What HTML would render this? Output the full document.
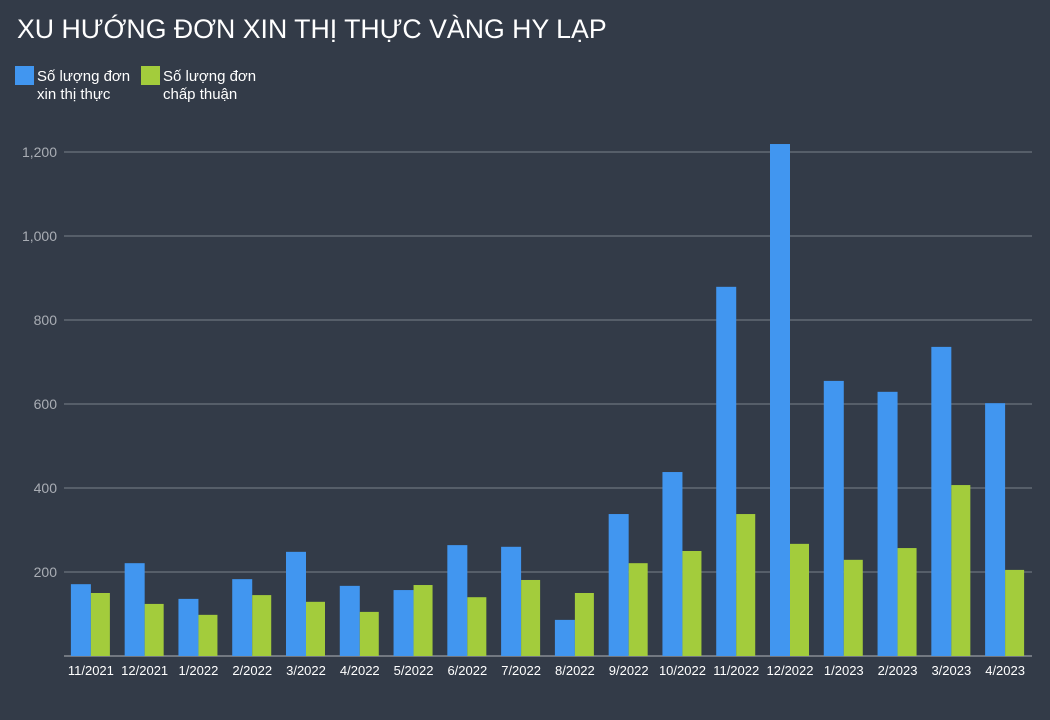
<!DOCTYPE html>
<html><head><meta charset="utf-8"><style>
body{margin:0;background:#333b48;font-family:"Liberation Sans",sans-serif;}
svg{display:block}
</style></head><body>
<svg id="c" width="1050" height="720">
<rect width="1050" height="720" fill="#333b48"/>
<text x="17" y="38" fill="#fff" font-size="26.7">XU HƯỚNG ĐƠN XIN THỊ THỰC VÀNG HY LẠP</text>
<g>
<rect x="15" y="66" width="19" height="19" fill="#4196f0"/>
<text x="37" y="81" fill="#fff" font-size="15">Số lượng đơn</text>
<text x="37" y="99" fill="#fff" font-size="15">xin thị thực</text>
</g>
<g>
<rect x="141" y="66" width="19" height="19" fill="#a3cc3c"/>
<text x="163" y="81" fill="#fff" font-size="15">Số lượng đơn</text>
<text x="163" y="99" fill="#fff" font-size="15">chấp thuận</text>
</g>
<g id="grid"></g><g id="bars"></g><g id="xl"></g>
</svg>
<script>
const categories=["11/2021","12/2021","1/2022","2/2022","3/2022","4/2022","5/2022","6/2022","7/2022","8/2022","9/2022","10/2022","11/2022","12/2022","1/2023","2/2023","3/2023","4/2023"];
const applications=[171,221,136,183,248,167,157,264,260,86,338,438,879,1219,655,629,736,602];
const approved=[150,124,98,145,129,105,169,140,181,150,221,250,338,267,229,257,407,205];
const yTicks=[200,400,600,800,1000,1200];
const yTickLabels=["200","400","600","800","1,000","1,200"];
const NS="http://www.w3.org/2000/svg";
const x0=64,x1=1032,y0=656,yMax=1200,yTop=152;
const y=v=>y0-(v/yMax)*(y0-yTop);
const bw=(x1-x0)/categories.length;
const xc=i=>x0+bw*(i+0.5);
function mk(t,a,p){const e=document.createElementNS(NS,t);for(const k in a)e.setAttribute(k,a[k]);p.appendChild(e);return e;}
const g=document.getElementById('grid');
yTicks.forEach((v,i)=>{
 const l=mk('line',{x1:x0,x2:x1,y1:y(v),y2:y(v),stroke:'#7a808a','stroke-width':1},g);
 
 
 const t=mk('text',{x:57,y:y(v)+5,fill:'#a9adb4','font-size':14,'text-anchor':'end'},g);
 t.textContent=yTickLabels[i];
 
 
});
const ax=mk('line',{x1:x0,x2:x1,y1:y0,y2:y0,stroke:'#b0b4ba','stroke-width':1},g);


const b=document.getElementById('bars'),xl=document.getElementById('xl');
categories.forEach((c,i)=>{
 const r1=mk('rect',{x:xc(i)-20,y:y(applications[i]),width:20,height:y0-y(applications[i]),fill:'#4196f0'},b);
 
 
 const r2=mk('rect',{x:xc(i),y:y(approved[i]),width:19,height:y0-y(approved[i]),fill:'#a3cc3c'},b);
 
 
 const t=mk('text',{x:xc(i),y:675,fill:'#fff','font-size':13,'text-anchor':'middle'},xl);
 t.textContent=c;
 
 
});
</script>
</body></html>
